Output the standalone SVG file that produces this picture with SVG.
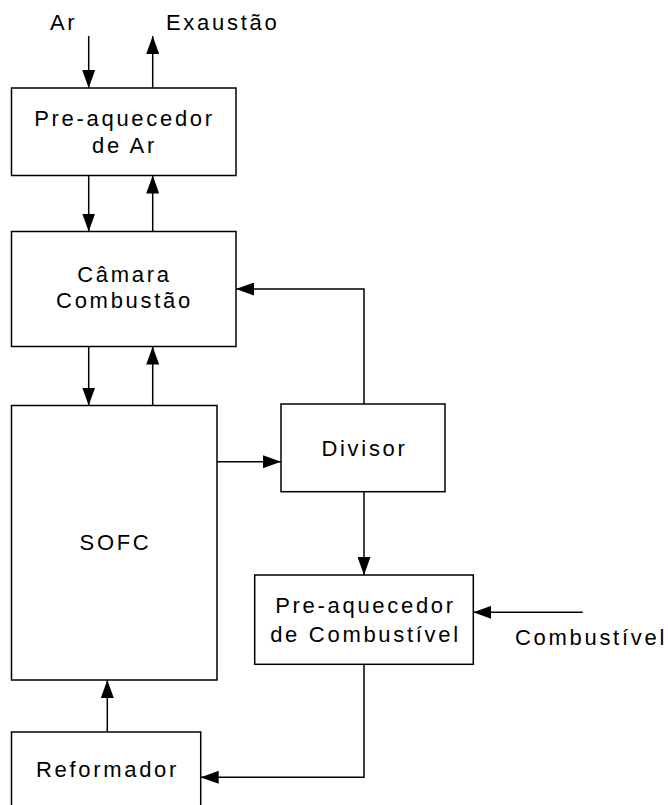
<svg xmlns="http://www.w3.org/2000/svg" width="668" height="805" viewBox="0 0 668 805">
<style>
.box{fill:#fff;stroke:#000;stroke-width:1.5}
.ln{fill:none;stroke:#000;stroke-width:1.5;marker-end:url(#ah)}
text{font-family:"Liberation Sans",Arial,sans-serif;font-size:22px;letter-spacing:2.7px;fill:#000}
.c{text-anchor:middle}
</style>
<defs>
<marker id="ah" viewBox="0 0 18 13" refX="18" refY="6.5" markerWidth="18" markerHeight="13" markerUnits="userSpaceOnUse" orient="auto">
<path d="M0,0 L18,6.5 L0,13 Z" fill="#000"/>
</marker>
</defs>
<rect width="668" height="805" fill="#fff"/>
<g id="connectors">
<line class="ln" x1="88.7" y1="36" x2="88.7" y2="88"/>
<line class="ln" x1="152.7" y1="88" x2="152.7" y2="36"/>
<line class="ln" x1="88.7" y1="175.5" x2="88.7" y2="231.5"/>
<line class="ln" x1="152.7" y1="231.5" x2="152.7" y2="175.5"/>
<line class="ln" x1="88.7" y1="346.5" x2="88.7" y2="405.5"/>
<line class="ln" x1="152.7" y1="405.5" x2="152.7" y2="346.5"/>
<polyline class="ln" points="364,404 364,289 236,289"/>
<line class="ln" x1="217" y1="461.7" x2="281" y2="461.7"/>
<line class="ln" x1="364" y1="491.7" x2="364" y2="575"/>
<line class="ln" x1="582.7" y1="612.3" x2="473.3" y2="612.3"/>
<polyline class="ln" points="364,664.3 364,777.3 200.7,777.3"/>
<line class="ln" x1="107.3" y1="732" x2="107.3" y2="680"/>
</g>
<g id="labels">
<text x="50" y="30">Ar</text>
<text x="166" y="30">Exaustão</text>
<text x="515" y="645">Combustível</text>
</g>
<g id="preaquecedor-ar">
<rect class="box" x="11.5" y="88" width="224.5" height="87.5"/>
<text class="c" x="124.5" y="126">Pre-aquecedor</text>
<text class="c" x="124.5" y="153">de Ar</text>
</g>
<g id="camara-combustao">
<rect class="box" x="11.5" y="231.5" width="224.5" height="115"/>
<text class="c" x="124.5" y="281.5">Câmara</text>
<text class="c" x="124.5" y="308">Combustão</text>
</g>
<g id="sofc">
<rect class="box" x="11.5" y="405.5" width="205.5" height="274.5"/>
<text class="c" x="115.5" y="550">SOFC</text>
</g>
<g id="divisor">
<rect class="box" x="281" y="404" width="164" height="87.7"/>
<text class="c" x="364.5" y="456">Divisor</text>
</g>
<g id="preaquecedor-combustivel">
<rect class="box" x="254.7" y="575" width="218.6" height="89.3"/>
<text class="c" x="365.5" y="613">Pre-aquecedor</text>
<text class="c" x="365.5" y="642">de Combustível</text>
</g>
<g id="reformador">
<rect class="box" x="11.5" y="732" width="189.2" height="80"/>
<text class="c" x="107.5" y="777">Reformador</text>
</g>
</svg>
